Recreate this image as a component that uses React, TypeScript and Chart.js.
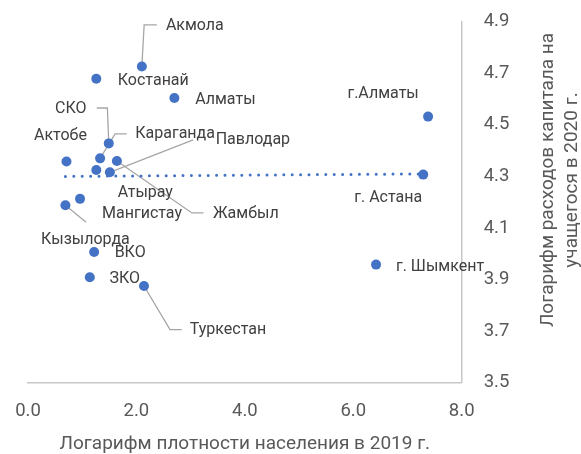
import React, { useEffect, useRef } from "react";
import { Chart, registerables } from "chart.js";
Chart.register(...registerables);

const regions = [
  "Акмола", "Костанай", "Алматы", "СКО", "Актобе", "Караганда", "Павлодар", "Жамбыл",
  "Атырау", "Мангистау", "Кызылорда", "ВКО", "ЗКО", "Туркестан", "г.Алматы", "г. Астана", "г. Шымкент",
];
const density = [2.10, 1.26, 2.70, 1.49, 0.71, 1.33, 1.51, 1.64, 1.26, 0.96, 0.69, 1.22, 1.14, 2.14, 7.38, 7.29, 6.42];
const expenses = [4.726, 4.679, 4.604, 4.428, 4.358, 4.370, 4.316, 4.360, 4.325, 4.213, 4.188, 4.007, 3.909, 3.875, 4.532, 4.307, 3.958];
const trendX = [0.69, 7.38];
const trendY = [4.300, 4.310];
const xTicks = [0, 2, 4, 6, 8];
const yTicks = [3.5, 3.7, 3.9, 4.1, 4.3, 4.5, 4.7, 4.9];
const xTitle = "Логарифм плотности населения в 2019 г.";
const yTitle = ["Логарифм расходов капитала на", "учащегося в 2020 г."];

// label placement: offset of label centre from the point, in px; optional leader polyline (offsets from point)
const labelLayout: { dx: number; dy: number; leader?: number[][] }[] = [
  { dx: 53, dy: -41, leader: [[15, -41.7], [2.3, -41.7], [0, 0]] },
  { dx: 57, dy: 2 },
  { dx: 51, dy: 2 },
  { dx: -38, dy: -34, leader: [[-12, -35.4], [-1.4, -35.4], [0, 0]] },
  { dx: -6, dy: -25 },
  { dx: 75, dy: -24, leader: [[26.7, -24.4], [15, -24.4], [0, 0]] },
  { dx: 143, dy: -32, leader: [[83.3, -32.4], [0, 0]] },
  { dx: 129, dy: 53, leader: [[86.6, 52], [75, 52], [0, 0]] },
  { dx: 49, dy: 23 },
  { dx: 62, dy: 15 },
  { dx: 20, dy: 35, leader: [[20.7, 17], [0, 0]] },
  { dx: 36, dy: 1 },
  { dx: 35, dy: 2 },
  { dx: 84, dy: 44, leader: [[37.7, 43.6], [26, 43.6], [0, 0]] },
  { dx: -45, dy: -23 },
  { dx: -35, dy: 23 },
  { dx: 64, dy: 2 },
];

const FONT = "Roboto";

const labelsPlugin = {
  id: "labelsPlugin",
  beforeDatasetsDraw(chart: any) {
    const { ctx, scales } = chart;
    ctx.save();
    ctx.strokeStyle = "#A6A6A6";
    ctx.lineWidth = 1.3;
    density.forEach((v, i) => {
      const L = labelLayout[i];
      if (!L.leader) return;
      const px = scales.x.getPixelForValue(v);
      const py = scales.y.getPixelForValue(expenses[i]);
      ctx.beginPath();
      L.leader.forEach((p, k) => {
        if (k === 0) ctx.moveTo(px + p[0], py + p[1]);
        else ctx.lineTo(px + p[0], py + p[1]);
      });
      ctx.stroke();
    });
    ctx.restore();
  },
  afterDatasetsDraw(chart: any) {
    const { ctx, scales } = chart;
    ctx.save();
    ctx.fillStyle = "#404040";
    ctx.font = `16px ${FONT}`;
    ctx.textAlign = "center";
    ctx.textBaseline = "middle";
    density.forEach((v, i) => {
      const L = labelLayout[i];
      const px = scales.x.getPixelForValue(v);
      const py = scales.y.getPixelForValue(expenses[i]);
      ctx.fillText(regions[i], px + L.dx, py + L.dy);
    });
    ctx.restore();
  },
  afterDraw(chart: any) {
    const { ctx, chartArea } = chart;
    ctx.save();
    ctx.fillStyle = "#595959";
    ctx.font = `19px ${FONT}`;
    ctx.textAlign = "center";
    ctx.textBaseline = "middle";
    ctx.fillText(xTitle, (chartArea.left + chartArea.right) / 2, 444);
    const xs = [548, 572];
    yTitle.forEach((t, k) => {
      ctx.save();
      ctx.translate(xs[k], 180);
      ctx.rotate(-Math.PI / 2);
      ctx.fillText(t, 0, 0);
      ctx.restore();
    });
    ctx.restore();
  },
};

export default function App() {
  const ref = useRef<HTMLCanvasElement>(null);
  useEffect(() => {
    document.body.style.margin = "0";
    const chart = new Chart(ref.current!, {
      type: "scatter",
      data: {
        datasets: [
          {
            label: "trend",
            type: "line",
            data: trendX.map((x, i) => ({ x, y: trendY[i] })),
            borderColor: "#4472C4",
            borderWidth: 3,
            borderDash: [0, 8.4],
            borderCapStyle: "round",
            pointRadius: 0,
            fill: false,
          },
          {
            label: "points",
            data: density.map((x, i) => ({ x, y: expenses[i] })),
            backgroundColor: "#4472C4",
            borderColor: "#4472C4",
            pointRadius: 5,
            pointBorderWidth: 0,
          },
        ],
      },
      options: {
        animation: false,
        responsive: false,
        maintainAspectRatio: false,
        layout: { padding: { left: 28, top: 21.7, right: 0, bottom: 0 } },
        plugins: { legend: { display: false }, tooltip: { enabled: false } },
        scales: {
          x: {
            type: "linear",
            min: 0,
            max: 8,
            afterBuildTicks: (s: any) => { s.ticks = xTicks.map((v) => ({ value: v })); },
            ticks: { callback: (v: any) => Number(v).toFixed(1), font: { family: FONT, size: 18.5 }, color: "#595959", padding: 18 },
            grid: { display: false, drawTicks: false },
            border: { display: true, color: "#C8C8C8", width: 1.5 },
            afterFit: (s: any) => {
              s.height = 71.3;
              s.paddingLeft = 0; s.paddingRight = 0; s.paddingTop = 0; s.paddingBottom = 0;
            },
          },
          y: {
            type: "linear",
            position: "right",
            min: 3.5,
            max: 4.9,
            afterBuildTicks: (s: any) => { s.ticks = yTicks.map((v) => ({ value: v })); },
            ticks: { callback: (v: any) => Number(v).toFixed(1), font: { family: FONT, size: 18.5 }, color: "#595959", padding: 22 },
            grid: { display: false, drawTicks: false },
            border: { display: true, color: "#C8C8C8", width: 1.5 },
            afterFit: (s: any) => {
              s.width = 119.3;
              s.paddingLeft = 0; s.paddingRight = 0; s.paddingTop = 0; s.paddingBottom = 0;
            },
          },
        },
      },
      plugins: [labelsPlugin],
    } as any);
    return () => chart.destroy();
  }, []);
  return (
    <div style={{ width: 581, height: 454 }}>
      <canvas ref={ref} width={581} height={454} style={{ width: 581, height: 454, display: "block" }} />
    </div>
  );
}
